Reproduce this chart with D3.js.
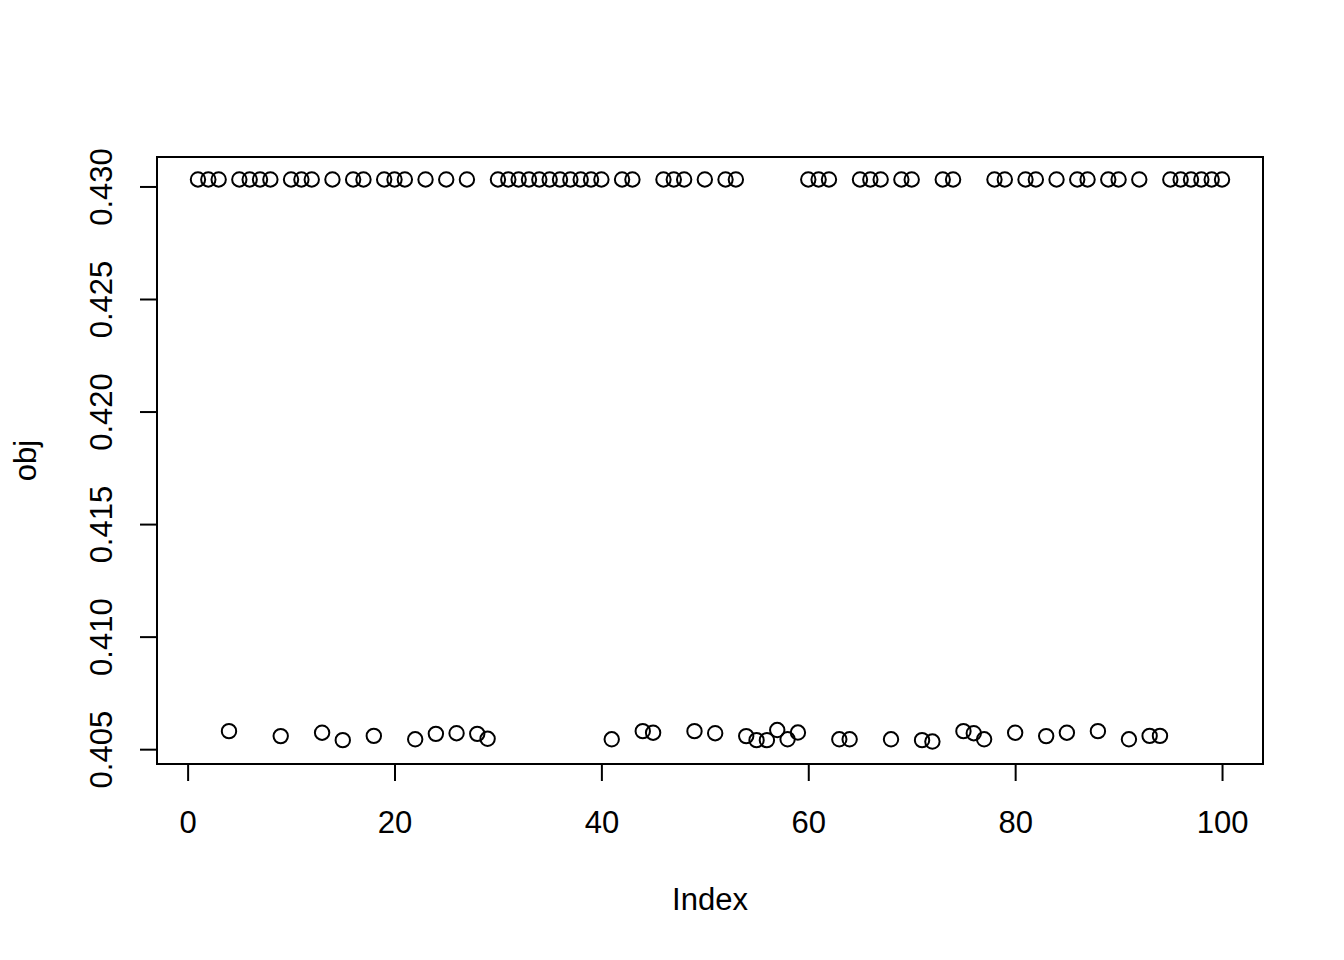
<!DOCTYPE html>
<html>
<head>
<meta charset="utf-8">
<script src="https://cdn.jsdelivr.net/npm/d3@7"></script>
<style>
  html, body { margin: 0; padding: 0; background: #fff; }
  svg text { font-family: "Liberation Sans", Arial, Helvetica, sans-serif; fill: #000; }
</style>
</head>
<body>
<svg id="chart" width="1344" height="960"></svg>
<script>
// ---- data ----
const indexValues = d3.range(1, 101);
const objValues = [
  0.43031, 0.43031, 0.43031, 0.40580, 0.43031, 0.43031, 0.43031, 0.43031, 0.40558, 0.43031,
  0.43031, 0.43031, 0.40573, 0.43031, 0.40540, 0.43031, 0.43031, 0.40559, 0.43031, 0.43031,
  0.43031, 0.40544, 0.43031, 0.40568, 0.43031, 0.40571, 0.43031, 0.40568, 0.40546, 0.43031,
  0.43031, 0.43031, 0.43031, 0.43031, 0.43031, 0.43031, 0.43031, 0.43031, 0.43031, 0.43031,
  0.40544, 0.43031, 0.43031, 0.40580, 0.40573, 0.43031, 0.43031, 0.43031, 0.40580, 0.43031,
  0.40571, 0.43031, 0.43031, 0.40558, 0.40540, 0.40540, 0.40585, 0.40544, 0.40574, 0.43031,
  0.43031, 0.43031, 0.40544, 0.40544, 0.43031, 0.43031, 0.43031, 0.40544, 0.43031, 0.43031,
  0.40540, 0.40534, 0.43031, 0.43031, 0.40580, 0.40571, 0.40544, 0.43031, 0.43031, 0.40573,
  0.43031, 0.43031, 0.40558, 0.43031, 0.40573, 0.43031, 0.43031, 0.40580, 0.43031, 0.43031,
  0.40544, 0.43031, 0.40559, 0.40559, 0.43031, 0.43031, 0.43031, 0.43031, 0.43031, 0.43031
];
const xTicks = [0, 20, 40, 60, 80, 100];
const yTicks = [0.405, 0.410, 0.415, 0.420, 0.425, 0.430];
const xLabel = "Index";
const yLabel = "obj";

// ---- layout ----
const plot = { left: 157, right: 1263, top: 157, bottom: 764 };
const fontSize = 31;
const tickLen = 17;

function extendRange(ext) {
  const d = (ext[1] - ext[0]) * 0.04;
  return [ext[0] - d, ext[1] + d];
}

const x = d3.scaleLinear().domain(extendRange(d3.extent(indexValues))).range([plot.left, plot.right]);
const y = d3.scaleLinear().domain(extendRange(d3.extent(objValues))).range([plot.bottom, plot.top]);

const svg = d3.select("#chart");

// box
svg.append("rect")
  .attr("x", plot.left).attr("y", plot.top)
  .attr("width", plot.right - plot.left).attr("height", plot.bottom - plot.top)
  .attr("fill", "none").attr("stroke", "#000").attr("stroke-width", 2);

// x axis
const gx = svg.append("g")
  .attr("transform", `translate(0,${plot.bottom})`)
  .call(d3.axisBottom(x).tickValues(xTicks).tickFormat(d3.format("d")).tickSize(tickLen));
gx.select(".domain").remove();
gx.selectAll(".tick line").attr("stroke", "#000").attr("stroke-width", 2);
gx.selectAll(".tick text")
  .attr("y", 69).attr("dy", null)
  .attr("font-size", fontSize).attr("fill", "#000");
gx.append("line")
  .attr("x1", x(xTicks[0])).attr("x2", x(xTicks[xTicks.length - 1]))
  .attr("y1", 0).attr("y2", 0)
  .attr("stroke", "#000").attr("stroke-width", 2);

// y axis
const gy = svg.append("g")
  .attr("transform", `translate(${plot.left},0)`)
  .call(d3.axisLeft(y).tickValues(yTicks).tickFormat(d3.format(".3f")).tickSize(tickLen));
gy.select(".domain").remove();
gy.selectAll(".tick line").attr("stroke", "#000").attr("stroke-width", 2);
gy.selectAll(".tick text")
  .attr("x", null).attr("dy", null)
  .attr("text-anchor", "middle")
  .attr("transform", "translate(-45,0) rotate(-90)")
  .attr("font-size", fontSize).attr("fill", "#000");
gy.append("line")
  .attr("x1", 0).attr("x2", 0)
  .attr("y1", y(yTicks[0])).attr("y2", y(yTicks[yTicks.length - 1]))
  .attr("stroke", "#000").attr("stroke-width", 2);

// axis titles
svg.append("text")
  .attr("x", (plot.left + plot.right) / 2).attr("y", 910)
  .attr("text-anchor", "middle").attr("font-size", fontSize)
  .text(xLabel);
svg.append("text")
  .attr("transform", `translate(36,${(plot.top + plot.bottom) / 2}) rotate(-90)`)
  .attr("text-anchor", "middle").attr("font-size", fontSize)
  .text(yLabel);

// points
svg.append("g")
  .selectAll("circle")
  .data(objValues)
  .join("circle")
  .attr("cx", (d, i) => x(indexValues[i]))
  .attr("cy", d => y(d))
  .attr("r", 7.2)
  .attr("fill", "none")
  .attr("stroke", "#000")
  .attr("stroke-width", 2);
</script>
</body>
</html>
